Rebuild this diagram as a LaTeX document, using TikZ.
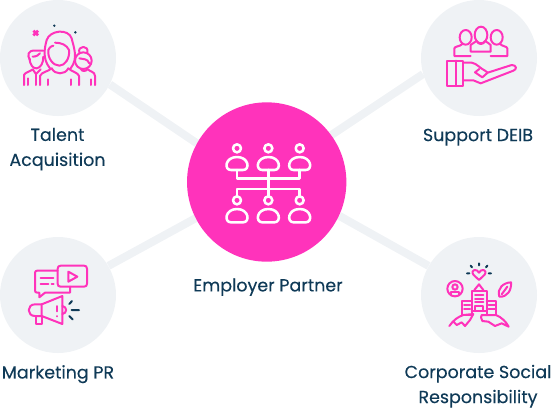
\documentclass[tikz,border=0pt]{standalone}
\usepackage{fontspec}
\setmainfont{Poppins}[FakeBold=0.25]
\usetikzlibrary{backgrounds}
\definecolor{hubpink}{HTML}{FF33BB}
\definecolor{softgrey}{HTML}{EFF2F5}
\definecolor{navy}{HTML}{0F3A57}
\tikzset{
  bubble/.style={circle,fill=softgrey,inner sep=0pt,minimum size=87pt},
  hub/.style={circle,fill=hubpink,inner sep=0pt,minimum size=119.5pt},
  link/.style={softgrey,line width=6pt},
  caption/.style={text=navy,font=\fontsize{13.1}{18.75}\selectfont,align=center,inner sep=0pt},
  ico/.style={hubpink,line width=1.5pt,line join=round,line cap=round,fill=none},
  wico/.style={white,line width=1.9pt,line join=round,line cap=round,fill=none},
  tick/.style={navy,line width=1.5pt,line cap=round},
  zoomed/.style={x=0.25pt,y=-0.25pt}
}
\begin{document}
\begin{tikzpicture}[x=0.75pt,y=-0.75pt]
\useasboundingbox (0,0) rectangle (552,408);
\node[bubble] (tl) at (58,58) {};
\node[bubble] (tr) at (479,58) {};
\node[bubble] (bl) at (58,295) {};
\node[bubble] (br) at (479,295) {};
\node[hub] (center) at (266.7,182) {};
\begin{scope}[on background layer]
\draw[link] (center.151) -- (tl.-27);
\draw[link] (center.36) -- (tr.196);
\draw[link] (center.207) -- (bl.30);
\draw[link] (center.-25.5) -- (br.150.6);
\end{scope}
\node[caption] (t1) at (57.5,149.2) {Talent\\Acquisition};
\node[caption] (t2) at (478,137.2) {Support DEIB};
\node[caption] (t3) at (268,287.2) {Employer Partner};
\node[caption] (t4) at (58,374.2) {Marketing PR};
\node[caption] (t5) at (478,386.2) {Corporate Social\\Responsibility};
% centre icon
\begin{scope}[shift={(180,105)},zoomed]
\foreach \x in {171,265,359}{
  \draw[wico] (\x,130) circle (12);
  \draw[wico] (\x-18,195) .. controls (\x-40,195) and (\x-36,156) .. (\x,156) .. controls (\x+36,156) and (\x+40,195) .. (\x+18,195) -- cycle;
  \draw[wico] (\x,286) circle (12);
  \draw[wico] (\x-18,352) .. controls (\x-40,352) and (\x-36,312) .. (\x,312) .. controls (\x+36,312) and (\x+40,352) .. (\x+18,352) -- cycle;
}
\draw[wico] (171,195) -- (171,220) -- (359,220) -- (359,195);
\draw[wico] (265,195) -- (265,274);
\draw[wico] (171,274) -- (171,252) -- (359,252) -- (359,274);
\end{scope}
% talent icon
\begin{scope}[zoomed]
\draw[ico] (150,205) .. controls (125,175) and (135,140) .. (140,120) .. controls (150,90) and (205,85) .. (215,115) .. controls (222,145) and (235,175) .. (212,205);
\draw[ico] (165,128) .. controls (185,128) and (200,135) .. (207,150) .. controls (210,175) and (195,197) .. (178,197) .. controls (160,197) and (142,175) .. (145,150) .. controls (150,140) and (155,138) .. (160,137);
\draw[ico] (120,255) -- (120,228) .. controls (125,215) and (145,215) .. (155,205);
\draw[ico] (205,205) .. controls (215,215) and (235,218) .. (237,228) -- (237,255);
\draw[ico] (155,205) .. controls (165,225) and (195,225) .. (205,205);
\draw[ico] (145,238) -- (145,255) (212,238) -- (212,255);
\draw[ico] (90,180) .. controls (80,165) and (85,150) .. (105,152) -- (130,152);
\draw[ico] (88,175) .. controls (90,195) and (100,207) .. (110,205) .. controls (122,203) and (130,190) .. (130,170);
\draw[ico] (98,170) .. controls (110,170) and (115,165) .. (120,160);
\draw[ico] (72,255) -- (72,225) .. controls (75,217) and (90,215) .. (98,208) -- (108,222) -- (122,208);
\draw[ico] (84,235) -- (84,255) (108,222) -- (108,255);
\draw[ico] (250,182) circle (25);
\draw[ico] (238,158) .. controls (232,135) and (268,135) .. (262,158);
\draw[ico] (238,175) .. controls (250,178) and (262,175) .. (268,190);
\draw[ico] (243,207) .. controls (245,215) and (258,215) .. (262,207) .. controls (270,215) and (285,215) .. (285,228) -- (285,255);
\draw[ico] (272,238) -- (272,255);
\draw[hubpink,line width=2pt] (100,92) -- (114,106) (114,92) -- (100,106);
\fill[navy] (163,77) circle (4) (226,97) circle (4);
\end{scope}
% deib icon
\begin{scope}[shift={(420,0)},zoomed]
\draw[ico] (137,112) ellipse (18 and 22);
\draw[ico] (183,105) ellipse (19 and 25);
\draw[ico] (230,112) ellipse (18 and 22);
\draw[ico] (152,168) -- (103,168) -- (103,145) .. controls (105,138) and (120,140) .. (127,132);
\draw[ico] (212,168) -- (262,168) -- (262,145) .. controls (260,138) and (248,140) .. (240,132);
\draw[ico] (152,155) -- (152,135) .. controls (155,128) and (165,130) .. (170,123) .. controls (175,135) and (190,135) .. (195,123) .. controls (200,130) and (210,128) .. (212,135) -- (212,155) -- cycle;
\draw[ico] (80,182) rectangle (130,258);
\draw[ico] (107,182) -- (107,258);
\draw[ico] (130,188) -- (155,188) .. controls (170,190) and (180,205) .. (195,212) -- (203,218);
\draw[ico] (178,207) -- (165,217) -- (187,232) -- (203,218) -- (275,195) .. controls (290,195) and (292,208) .. (280,212) -- (182,250) -- (160,241) -- (130,241);
\end{scope}
% marketing icon
\begin{scope}[shift={(0,240)},zoomed]
\draw[ico] (173,92) -- (112,92) .. controls (107,92) and (105,94) .. (105,99) -- (105,151) .. controls (105,156) and (107,158) .. (112,158) -- (118,158) -- (118,172) -- (135,158) -- (210,158) -- (210,140);
\draw[ico] (182,77) -- (252,77) .. controls (258,77) and (261,80) .. (261,86) -- (261,131) .. controls (261,137) and (258,140) .. (252,140) -- (182,140) .. controls (176,140) and (173,137) .. (173,131) -- (173,86) .. controls (173,80) and (176,77) .. (182,77) -- cycle;
\draw[ico] (205,95) -- (232,110) -- (205,125) -- cycle;
\draw[ico] (122,115) -- (160,115) (122,132) -- (145,132) (155,132) -- (161,132);
\draw[ico] (125,193) -- (187,168) -- (187,252) -- (125,228) -- cycle;
\draw[ico] (125,193) -- (105,193) .. controls (80,193) and (80,228) .. (105,228) -- (125,228);
\draw[ico] (108,228) -- (108,252) -- (125,252) -- (125,228);
\draw[ico] (170,198) -- (170,214) (170,228) -- (170,229);
\draw[ico] (187,198) .. controls (202,200) and (202,220) .. (187,222);
\draw[tick] (215,210) -- (237,210) (208,192) -- (216,183) (208,228) -- (218,238);
\end{scope}
% csr icon
\begin{scope}[shift={(420,240)},zoomed]
\draw[ico] (177,120) -- (160,104) .. controls (150,88) and (172,85) .. (177,98) .. controls (182,85) and (204,88) .. (194,104) -- cycle;
\draw[tick] (177,70) -- (177,76) (152,77) -- (156,82) (202,77) -- (198,82) (141,100) -- (148,100) (206,100) -- (213,100);
\draw[ico] (105,146) circle (23);
\draw[ico] (105,141) circle (8);
\draw[ico] (94,166) -- (94,155) -- (116,155) -- (116,166);
\draw[ico] (238,170) .. controls (230,145) and (250,128) .. (273,127) .. controls (275,150) and (262,172) .. (238,170) -- cycle;
\draw[ico] (245,163) -- (262,140);
\draw[ico] (155,225) -- (155,152) -- (200,152) -- (200,225);
\draw[ico] (163,150) -- (177,133) -- (190,150);
\draw[ico] (155,182) -- (127,182) -- (127,225) -- (155,225);
\draw[ico] (200,182) -- (228,182) -- (228,225) -- (200,225);
\draw[ico] (165,165) -- (190,165) (165,176) -- (190,176) (165,187) -- (190,187);
\draw[ico] (165,212) -- (165,198) -- (190,198) -- (190,212) (155,212) -- (200,212);
\draw[ico] (132,195) -- (150,195) (132,206) -- (150,206) (206,195) -- (224,195) (206,206) -- (224,206);
\draw[ico] (88,258) .. controls (100,240) and (115,230) .. (130,225) -- (160,222) -- (150,240) -- (135,258) -- (125,247) -- (110,255) -- (100,245);
\draw[ico] (185,225) -- (228,225) .. controls (245,232) and (258,245) .. (266,260) -- (245,250) -- (225,258) -- (205,245) -- (187,243) -- (183,232) -- cycle;
\end{scope}
\end{tikzpicture}
\end{document}
